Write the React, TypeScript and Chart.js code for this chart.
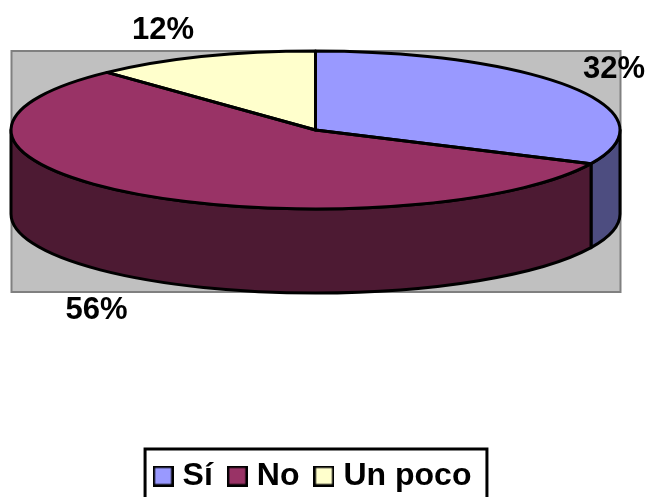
import { useEffect, useRef } from "react";
import { Chart, registerables } from "chart.js";

Chart.register(...registerables);

// Survey answers, in percent
const categories = ["Sí", "No", "Un poco"];
const percentages = [32, 56, 12];

const topColors = ["#9999ff", "#993366", "#ffffcc"];
const wallColors = ["#4d4d80", "#4d1a33", "#808066"];

// Where each percentage caption sits, in the same order as the categories
const captionCenters = [
  [614, 69],
  [96.5, 310],
  [163, 30],
];

// Tilted disc geometry
const DISC = { cx: 315.5, cy: 130, rx: 304.5, ry: 79, depth: 84 };
const PLOT = { left: 11.5, top: 51, right: 620.5, bottom: 292 };
const FONT_FAMILY = '"Liberation Sans", Arial, sans-serif';
const CAPTION_SIZE = 31;
const LEGEND_SIZE = 32;

function makeSwatch(fill: string): HTMLCanvasElement {
  const swatch = document.createElement("canvas");
  swatch.width = 21;
  swatch.height = 21;
  const c = swatch.getContext("2d")!;
  c.fillStyle = fill;
  c.strokeStyle = "#000000";
  c.lineWidth = 2.5;
  c.fillRect(1, 1, 19, 19);
  c.strokeRect(1.25, 1.25, 18.5, 18.5);
  return swatch;
}

function ellipsePath(ctx: CanvasRenderingContext2D, dy: number, a0: number, a1: number, ccw = false) {
  ctx.ellipse(DISC.cx, DISC.cy + dy, DISC.rx, DISC.ry, 0, a0, a1, ccw);
}

// Paints the backdrop and the visible side walls, and flattens the arcs into an ellipse
const tiltedPie = {
  id: "tiltedPie",
  beforeDatasetsDraw(chart: Chart) {
    const { ctx } = chart;
    const arcs = chart.getDatasetMeta(0).data as any[];

    ctx.save();
    ctx.fillStyle = "#c0c0c0";
    ctx.strokeStyle = "#808080";
    ctx.lineWidth = 2;
    ctx.fillRect(PLOT.left, PLOT.top, PLOT.right - PLOT.left, PLOT.bottom - PLOT.top);
    ctx.strokeRect(PLOT.left, PLOT.top, PLOT.right - PLOT.left, PLOT.bottom - PLOT.top);

    // Only the part of each slice facing the viewer (angles 0 to PI) has a wall
    ctx.lineWidth = 3;
    ctx.strokeStyle = "#000000";
    ctx.lineJoin = "round";
    arcs.forEach((arc, i) => {
      const { startAngle, endAngle } = arc.getProps(["startAngle", "endAngle"], true);
      for (const turn of [0, Math.PI * 2]) {
        const a0 = Math.max(startAngle - turn, 0);
        const a1 = Math.min(endAngle - turn, Math.PI);
        if (a1 <= a0) continue;
        ctx.beginPath();
        ellipsePath(ctx, 0, a0, a1);
        ellipsePath(ctx, DISC.depth, a1, a0, true);
        ctx.closePath();
        ctx.fillStyle = wallColors[i];
        ctx.fill();
        ctx.stroke();
      }
    });

    const first = arcs[0];
    const sx = DISC.rx / first.outerRadius;
    const sy = DISC.ry / first.outerRadius;
    ctx.translate(DISC.cx, DISC.cy);
    ctx.scale(sx, sy);
    ctx.translate(-first.x, -first.y);
  },
  afterDatasetsDraw(chart: Chart) {
    const { ctx } = chart;
    ctx.restore();

    // Outlines go on after the transform is gone so the line width stays even
    const arcs = chart.getDatasetMeta(0).data as any[];
    ctx.save();
    ctx.strokeStyle = "#000000";
    ctx.lineWidth = 3;
    ctx.lineJoin = "round";
    arcs.forEach((arc) => {
      const { startAngle, endAngle } = arc.getProps(["startAngle", "endAngle"], true);
      ctx.beginPath();
      ctx.moveTo(DISC.cx, DISC.cy);
      ellipsePath(ctx, 0, startAngle, endAngle);
      ctx.closePath();
      ctx.stroke();
    });
    ctx.restore();
  },
  afterDraw(chart: Chart) {
    const { ctx } = chart;
    ctx.save();
    ctx.fillStyle = "#000000";
    ctx.font = `bold ${CAPTION_SIZE}px ${FONT_FAMILY}`;
    ctx.textAlign = "center";
    ctx.textBaseline = "middle";
    percentages.forEach((value, i) => {
      ctx.fillText(`${value}%`, captionCenters[i][0], captionCenters[i][1]);
    });

    // Frame round the legend; its lower edge runs off the page
    const hits = (chart.legend as any).legendHitBoxes as any[];
    if (hits && hits.length) {
      const last = hits[hits.length - 1];
      const left = hits[0].left - 14.5;
      const right = last.left + last.width + 15.5;
      const top = hits[0].top + hits[0].height / 2 - 27;
      ctx.strokeStyle = "#000000";
      ctx.lineWidth = 3;
      ctx.strokeRect(left, top, right - left, 100);
    }
    ctx.restore();
  },
};

export default function App() {
  const canvasRef = useRef<HTMLCanvasElement>(null);

  useEffect(() => {
    const chart = new Chart(canvasRef.current!, {
      type: "pie",
      data: {
        labels: categories,
        datasets: [
          {
            data: percentages,
            backgroundColor: topColors,
            borderWidth: 0,
            clip: false as any,
          },
        ],
      },
      options: {
        responsive: false,
        animation: false,
        layout: { padding: { left: 0, right: 18, top: 0, bottom: -5 } },
        plugins: {
          tooltip: { enabled: false },
          legend: {
            position: "bottom",
            labels: {
              color: "#000000",
              font: { family: FONT_FAMILY, size: LEGEND_SIZE, weight: "bold" },
              usePointStyle: true,
              pointStyleWidth: 7,
              boxHeight: 21,
              padding: 21,
              generateLabels(c: Chart) {
                return categories.map((text, i) => ({
                  text,
                  index: i,
                  fillStyle: topColors[i],
                  strokeStyle: "#000000",
                  lineWidth: 2,
                  pointStyle: makeSwatch(topColors[i]),
                  hidden: !c.getDataVisibility(i),
                })) as any;
              },
            },
          },
        },
      },
      plugins: [tiltedPie],
    });
    return () => chart.destroy();
  }, []);

  return (
    <div style={{ position: "absolute", left: 0, top: 0, width: 649, height: 497, overflow: "hidden", background: "#ffffff" }}>
      <canvas ref={canvasRef} width={649} height={497} style={{ display: "block" }} />
    </div>
  );
}
